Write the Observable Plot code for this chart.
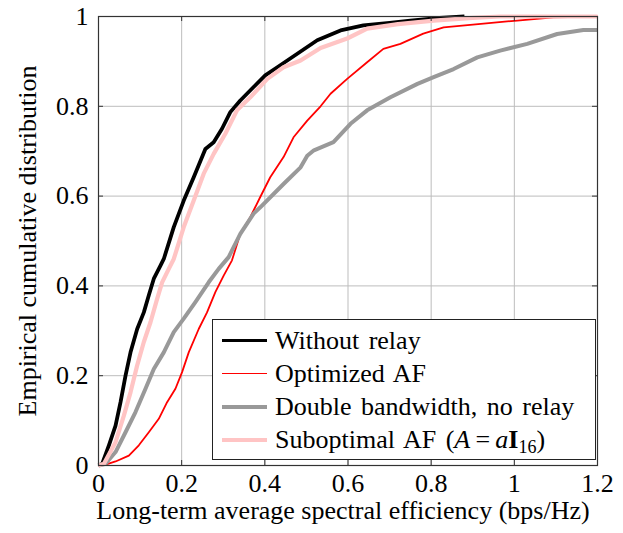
<!DOCTYPE html>
<html>
<head>
<meta charset="utf-8">
<script src="https://cdn.jsdelivr.net/npm/d3@7"></script>
<script src="https://cdn.jsdelivr.net/npm/@observablehq/plot@0.6"></script>
<style>
  html, body { margin: 0; padding: 0; background: white; }
  #wrap { position: relative; width: 623px; height: 533px; font-family: "Liberation Serif", "Times New Roman", serif; }
  #legend { position: absolute; left: 212px; top: 319px; width: 384px; height: 141px; border: 1.2px solid #222; background: white; box-sizing: border-box; }
  .row { position: absolute; left: 0; height: 33px; display: flex; align-items: center; font-size: 26px; white-space: nowrap; color: black; word-spacing: 3px; }
  .swatch { display: inline-block; width: 45px; margin-left: 9px; margin-right: 8px; }
  sub { font-size: 18px; vertical-align: -5px; line-height: 0; }
</style>
</head>
<body>
<div id="wrap"></div>
<script>
// ---- data ----
const seriesNames = ["Without relay", "Optimized AF", "Double bandwidth, no relay", "Suboptimal AF"];

const withoutRelayX = [0,0.009,0.025,0.041,0.053,0.065,0.077,0.093,0.109,0.121,0.133,0.149,0.157,0.181,0.205,0.229,0.257,0.277,0.297,0.317,0.341,0.373,0.401,0.43,0.454,0.486,0.526,0.582,0.637,0.70,0.75,0.82,0.88];
const withoutRelayY = [0,0.004,0.045,0.089,0.141,0.2,0.252,0.304,0.341,0.379,0.416,0.445,0.46,0.531,0.59,0.642,0.705,0.72,0.75,0.787,0.813,0.843,0.869,0.887,0.902,0.922,0.947,0.969,0.98,0.986,0.991,0.997,1];

const optimizedX = [0,0.017,0.041,0.073,0.097,0.121,0.145,0.165,0.185,0.201,0.217,0.241,0.261,0.281,0.301,0.321,0.341,0.365,0.389,0.413,0.445,0.469,0.502,0.534,0.558,0.598,0.646,0.685,0.726,0.781,0.83,0.926,1.007,1.094,1.2];
const optimizedY = [0,0.002,0.009,0.022,0.045,0.074,0.104,0.141,0.171,0.208,0.252,0.304,0.341,0.386,0.423,0.457,0.516,0.553,0.598,0.642,0.687,0.731,0.768,0.8,0.828,0.861,0.898,0.928,0.939,0.962,0.976,0.984,0.991,0.998,1];

const doubleBwX = [0,0.017,0.041,0.065,0.089,0.113,0.133,0.157,0.181,0.205,0.233,0.265,0.289,0.313,0.341,0.373,0.389,0.445,0.486,0.502,0.518,0.565,0.606,0.646,0.702,0.767,0.806,0.854,0.911,0.966,1.031,1.103,1.166,1.2];
const doubleBwY = [0,0.004,0.03,0.074,0.119,0.171,0.215,0.252,0.297,0.327,0.364,0.408,0.438,0.464,0.516,0.561,0.575,0.627,0.664,0.69,0.702,0.72,0.761,0.791,0.82,0.85,0.865,0.883,0.909,0.924,0.939,0.961,0.97,0.97];

const suboptimalX = [0,0.013,0.041,0.061,0.077,0.093,0.109,0.125,0.141,0.153,0.169,0.181,0.205,0.229,0.253,0.277,0.305,0.333,0.365,0.406,0.445,0.486,0.534,0.598,0.646,0.72,0.806,0.9,0.966,1.2];
const suboptimalY = [0,0.004,0.052,0.111,0.163,0.223,0.275,0.319,0.371,0.408,0.438,0.46,0.531,0.59,0.65,0.694,0.739,0.791,0.82,0.861,0.887,0.902,0.93,0.951,0.973,0.983,0.991,0.997,1,1];

const xTicks = [0, 0.2, 0.4, 0.6, 0.8, 1, 1.2];
const yTicks = [0, 0.2, 0.4, 0.6, 0.8, 1];
const xGrid = [0.2, 0.4, 0.6, 0.8, 1];
const yGrid = [0.2, 0.4, 0.6, 0.8];
const xLabel = "Long-term average spectral efficiency (bps/Hz)";
const yLabel = "Empirical cumulative distribution";

// ---- styles ----
const colors = ["#000000", "#ff0000", "#999999", "#ffc4c4"];
const widths = [3.8, 1.8, 4, 4.2];

const zip = (xs, ys) => xs.map((x, i) => ({x, y: ys[i]}));
const series = [
  zip(withoutRelayX, withoutRelayY),
  zip(optimizedX, optimizedY),
  zip(doubleBwX, doubleBwY),
  zip(suboptimalX, suboptimalY)
];

const tickLenX = 5 / 416;
const tickLenY = 5 / 449;

const plot = Plot.plot({
  width: 623,
  height: 533,
  marginLeft: 98,
  marginRight: 26,
  marginTop: 16,
  marginBottom: 68,
  style: {fontFamily: "'Liberation Serif', 'Times New Roman', serif", fontSize: "26px", background: "white", color: "black", overflow: "visible"},
  x: {domain: [0, 1.2], label: null},
  y: {domain: [0, 1], label: null},
  marks: [
    Plot.ruleX(xGrid, {stroke: "#bdbdbd", strokeWidth: 1}),
    Plot.ruleY(yGrid, {stroke: "#bdbdbd", strokeWidth: 1}),
    ...series.map((s, i) => Plot.line(s, {x: "x", y: "y", stroke: colors[i], strokeWidth: widths[i], strokeLinejoin: "round", strokeLinecap: "butt"})),
    Plot.ruleX(xTicks, {y1: 0, y2: tickLenY, stroke: "#333", strokeWidth: 1}),
    Plot.ruleX(xTicks, {y1: 1 - tickLenY, y2: 1, stroke: "#333", strokeWidth: 1}),
    Plot.ruleY(yTicks, {x1: 0, x2: tickLenX, stroke: "#333", strokeWidth: 1}),
    Plot.ruleY(yTicks, {x1: 1.2 - tickLenX, x2: 1.2, stroke: "#333", strokeWidth: 1}),
    Plot.frame({stroke: "#333", strokeWidth: 1.2}),
    Plot.axisX(xTicks, {tickSize: 0, tickPadding: 8, label: null, tickFormat: d => String(d), fontSize: 26}),
    Plot.axisY(yTicks, {tickSize: 0, tickPadding: 10, label: null, tickFormat: d => String(d), fontSize: 26}),
    Plot.text([xLabel], {frameAnchor: "bottom", textAnchor: "middle", dy: 53, dx: -5, fontSize: 26, fill: "black", style: "word-spacing:1.5px"}),
    Plot.text([yLabel], {frameAnchor: "left", textAnchor: "middle", rotate: -90, dx: -71, fontSize: 26, fill: "black"})
  ]
});

const wrap = document.getElementById("wrap");
wrap.appendChild(plot);

// ---- legend ----
const legend = document.createElement("div");
legend.id = "legend";
const labelsHtml = [
  seriesNames[0],
  seriesNames[1],
  seriesNames[2],
  seriesNames[3] + " (<i>A</i>&#8201;=&#8201;<i>a</i><b>I</b><sub>16</sub>)"
];
labelsHtml.forEach((html, i) => {
  const row = document.createElement("div");
  row.className = "row";
  row.style.top = (4 + i * 33) + "px";
  const sw = document.createElement("span");
  sw.className = "swatch";
  sw.style.borderTop = widths[i] + "px solid " + colors[i];
  row.appendChild(sw);
  const t = document.createElement("span");
  t.innerHTML = html;
  row.appendChild(t);
  legend.appendChild(row);
});
wrap.appendChild(legend);
</script>
</body>
</html>
